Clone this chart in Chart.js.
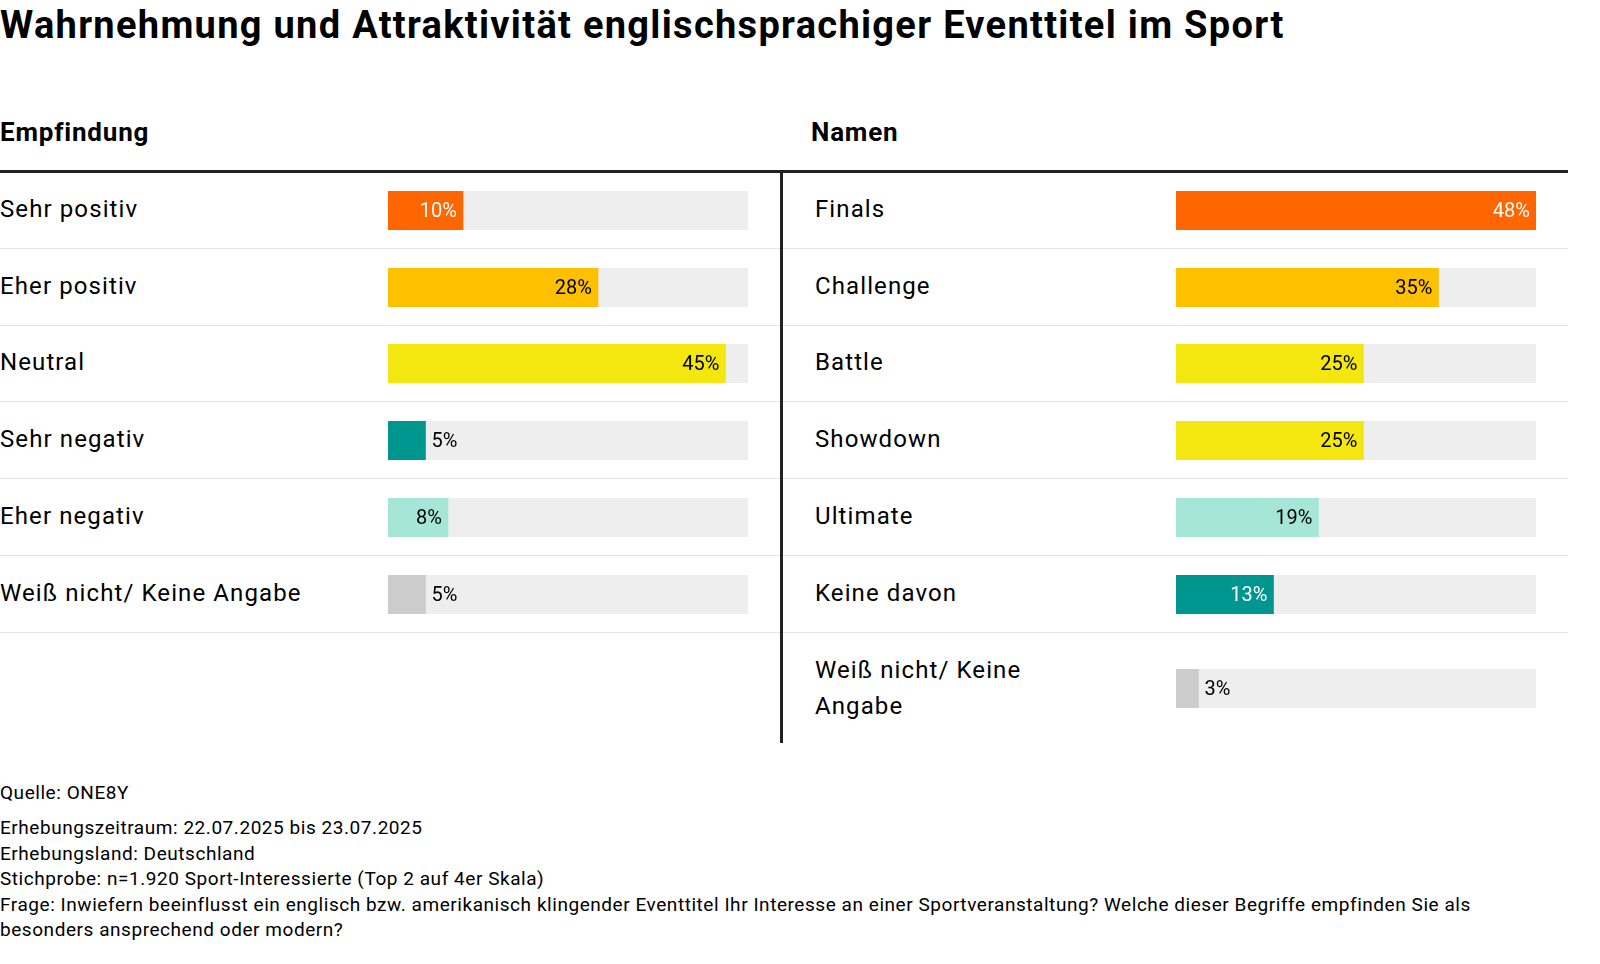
<!DOCTYPE html>
<html><head><meta charset="utf-8">
<script src="https://cdn.jsdelivr.net/npm/chart.js@4"></script>
<style>
html{overflow:hidden}
body{margin:0;width:1600px;height:964px;background:#fff;font-family:Roboto,sans-serif;color:#000;position:relative;overflow:hidden}
h1{position:absolute;left:0;top:2px;margin:0;font-size:38px;font-weight:700;line-height:46px;letter-spacing:1.3px}
.hd{position:absolute;top:117px;font-size:26px;font-weight:700;letter-spacing:0.8px}
.topline{position:absolute;left:0;top:170px;width:1568px;height:3px;background:#222}
.vline{position:absolute;left:780px;top:171px;width:3px;height:572px;background:#222}
.row{position:absolute;border-bottom:1px solid #e4e4e4}
.lab{position:absolute;font-size:24px;line-height:36px;letter-spacing:1.1px}
.row canvas{position:absolute}
.foot{position:absolute;left:0;font-size:19px;line-height:25.5px;letter-spacing:0.55px}
</style></head><body>
<h1>Wahrnehmung und Attraktivität englischsprachiger Eventtitel im Sport</h1>
<div class="hd" style="left:0">Empfindung</div>
<div class="hd" style="left:811px">Namen</div>
<div class="topline"></div>
<div id="rows"></div>
<div class="vline"></div>
<div class="foot" style="top:780px">Quelle: ONE8Y</div>
<div class="foot" style="top:815px;width:1560px">Erhebungszeitraum: 22.07.2025 bis 23.07.2025<br>Erhebungsland: Deutschland<br>Stichprobe: n=1.920 Sport-Interessierte (Top 2 auf 4er Skala)<br>Frage: Inwiefern beeinflusst ein englisch bzw. amerikanisch klingender Eventtitel Ihr Interesse an einer Sportveranstaltung? Welche dieser Begriffe empfinden Sie als besonders ansprechend oder modern?</div>
<script>
const leftLabels = ['Sehr positiv', 'Eher positiv', 'Neutral', 'Sehr negativ', 'Eher negativ', 'Weiß nicht/ Keine Angabe'];
const leftValues = [10, 28, 45, 5, 8, 5];
const leftColors = ['#ff6600', '#ffc000', '#f4e60f', '#009690', '#a6e6d6', '#cccccc'];
const rightLabels = ['Finals', 'Challenge', 'Battle', 'Showdown', 'Ultimate', 'Keine davon', 'Weiß nicht/ Keine<br>Angabe'];
const rightValues = [48, 35, 25, 25, 19, 13, 3];
const rightColors = ['#ff6600', '#ffc000', '#f4e60f', '#f4e60f', '#a6e6d6', '#009690', '#cccccc'];
const axisMax = 48;
const whiteText = ['#ff6600', '#009690'];

const valueLabels = {
    id: 'valueLabels',
    afterDatasetsDraw(chart) {
        const ctx = chart.ctx;
        const bar = chart.getDatasetMeta(1).data[0];
        const v = chart.data.datasets[1].data[0];
        const col = chart.data.datasets[1].backgroundColor;
        const txt = v + '%';
        ctx.save();
        ctx.font = '20px Roboto';
        ctx.textBaseline = 'middle';
        const w = ctx.measureText(txt).width;
        if (bar.x - bar.base > w + 12) {
            ctx.textAlign = 'right';
            ctx.fillStyle = whiteText.includes(col) ? '#fff' : '#000';
            ctx.fillText(txt, bar.x - 6, bar.y + 1);
        } else {
            ctx.textAlign = 'left';
            ctx.fillStyle = '#000';
            ctx.fillText(txt, bar.x + 6, bar.y + 1);
        }
        ctx.restore();
    }
};

function addRow(x, y, w, h, labelX, barX, label, value, color) {
    const row = document.createElement('div');
    row.className = 'row';
    row.style.cssText = `left:${x}px;top:${y}px;width:${w}px;height:${h}px`;
    const lab = document.createElement('div');
    lab.className = 'lab';
    lab.style.cssText = `left:${labelX}px;top:${h / 2 - (label.includes('<br>') ? 36 : 19)}px`;
    lab.innerHTML = label;
    row.appendChild(lab);
    const wrap = document.createElement('div');
    wrap.style.cssText = `position:absolute;left:${barX}px;top:${h / 2 - 19}px;width:360px;height:39px`;
    const cv = document.createElement('canvas');
    wrap.appendChild(cv);
    row.appendChild(wrap);
    document.getElementById('rows').appendChild(row);
    new Chart(cv, {
        type: 'bar',
        data: {
            labels: [''],
            datasets: [
                { data: [axisMax], backgroundColor: '#eeeeee', grouped: false, barPercentage: 1, categoryPercentage: 1, order: 2 },
                { data: [value], backgroundColor: color, grouped: false, barPercentage: 1, categoryPercentage: 1, order: 1 }
            ]
        },
        options: {
            indexAxis: 'y',
            responsive: true,
            maintainAspectRatio: false,
            animation: false,
            layout: { padding: 0 },
            plugins: { legend: { display: false }, tooltip: { enabled: false } },
            scales: {
                x: { display: false, min: 0, max: axisMax },
                y: { display: false }
            }
        },
        plugins: [valueLabels]
    });
}

const rowH = 76.8;
leftLabels.forEach((l, i) => addRow(0, 172 + i * rowH, 780, rowH - 1, 0, 388, l, leftValues[i], leftColors[i]));
rightLabels.forEach((l, i) => {
    const last = i === rightLabels.length - 1;
    addRow(783, 172 + i * rowH, 785, last ? 110 : rowH - 1, 32, 393, l, rightValues[i], rightColors[i]);
});
document.querySelectorAll('.row')[12].style.borderBottom = 'none';
</script>
</body></html>
